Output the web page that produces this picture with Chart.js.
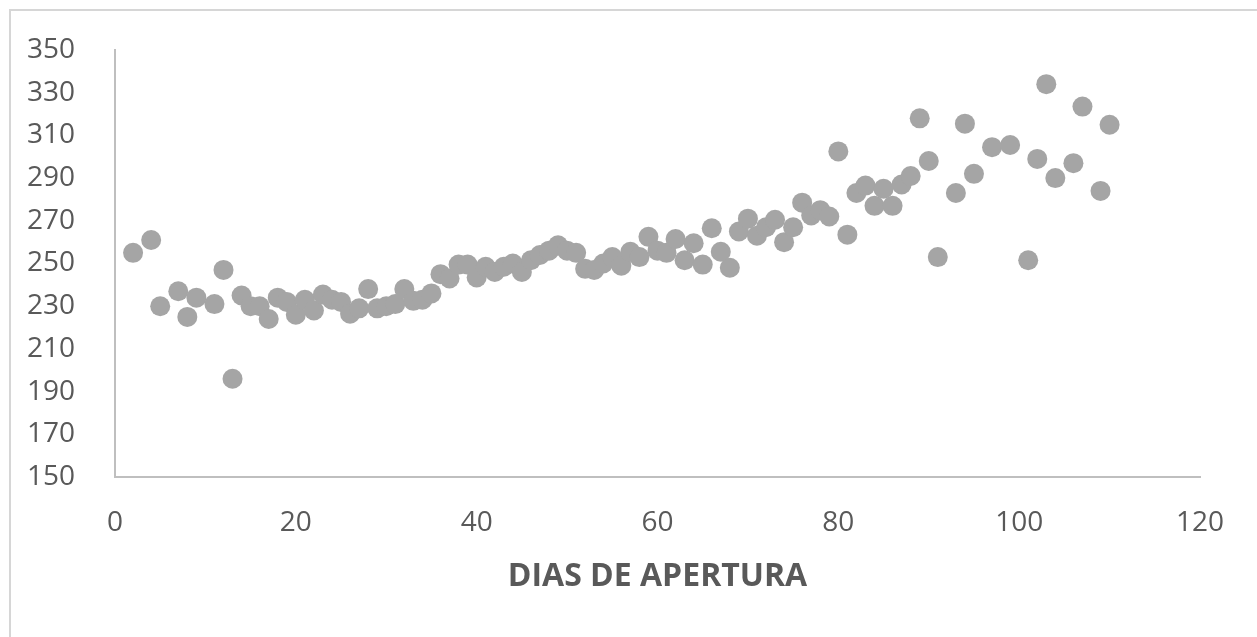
<!DOCTYPE html>
<html lang="es">
<head>
<meta charset="UTF-8">
<title>Dias de apertura</title>
<script src="https://cdn.jsdelivr.net/npm/chart.js"></script>
<style>
 html, body { margin: 0; padding: 0; background: #fff; overflow: hidden; }
 .frame {
   position: absolute; left: 9px; top: 9px; width: 1400px; height: 800px;
   border-left: 2px solid #d6d6d6; border-top: 2px solid #d6d6d6;
 }
 #chart { position: absolute; left: 0; top: 0; }
</style>
</head>
<body>
<div class="frame"></div>
<canvas id="chart" width="1257" height="637"></canvas>
<script>
// x: dias de apertura, y: valor
const dias = [2, 4, 5, 7, 8, 9, 11, 12, 13, 14, 15, 16, 17, 18, 19, 20, 21, 22, 23, 24,
  25, 26, 27, 28, 29, 30, 31, 32, 33, 34, 35, 36, 37, 38, 39, 40, 41, 42, 43, 44,
  45, 46, 47, 48, 49, 50, 51, 52, 53, 54, 55, 56, 57, 58, 59, 60, 61, 62, 63, 64,
  65, 66, 67, 68, 69, 70, 71, 72, 73, 74, 75, 76, 77, 78, 79, 80, 81, 82, 83, 84,
  85, 86, 87, 88, 89, 90, 91, 93, 94, 95, 97, 99, 101, 102, 103, 104, 106, 107, 109, 110];
const valores = [255, 261, 230, 237, 225, 234, 231, 247, 196, 235, 230, 230, 224, 234, 232, 226, 233, 228, 235.5, 233,
  232, 226.5, 229, 238, 229, 230, 231, 238, 232.5, 233, 236, 245, 243, 249.5, 249.5, 243.5, 248.5, 246, 248.5, 250,
  246, 251.5, 254, 256, 258.5, 256, 255, 247.5, 247, 250, 253, 249, 255.5, 253, 262.5, 256, 255, 261.5, 251.5, 259.5,
  249.5, 266.5, 255.5, 248, 265, 271, 263, 267, 270.5, 260, 267, 278.5, 272.5, 275, 272, 302.5, 263.5, 283, 286.5, 277,
  285, 277, 287, 291, 318, 298, 253, 283, 315.5, 292, 304.5, 305.5, 251.5, 299, 334, 290, 297, 323.5, 284, 315];

const xTicks = [0, 20, 40, 60, 80, 100, 120];
const yTicks = [150, 170, 190, 210, 230, 250, 270, 290, 310, 330, 350];
const xTitle = 'DIAS DE APERTURA';

const puntos = dias.map((d, i) => ({ x: d, y: valores[i] }));

new Chart(document.getElementById('chart'), {
  type: 'scatter',
  data: {
    datasets: [{
      data: puntos,
      backgroundColor: '#a5a5a5',
      borderColor: '#a5a5a5',
      pointRadius: 10,
      pointBorderWidth: 0,
      pointHoverRadius: 10
    }]
  },
  options: {
    responsive: false,
    animation: false,
    devicePixelRatio: 1,
    layout: { padding: { top: 50, right: 57, left: 0, bottom: 0 } },
    plugins: { legend: { display: false }, tooltip: { enabled: false } },
    scales: {
      x: {
        type: 'linear',
        min: xTicks[0],
        max: xTicks[xTicks.length - 1],
        afterBuildTicks: s => { s.ticks = xTicks.map(v => ({ value: v })); },
        afterFit: s => { s.height = 160; },
        grid: { display: false },
        border: { display: true, color: '#bfbfbf', width: 2 },
        ticks: { color: '#595959', padding: 21, font: { family: 'Open Sans', size: 28 } },
        title: {
          display: true,
          text: xTitle,
          color: '#595959',
          padding: { bottom: 41 },
          font: { family: 'Open Sans', size: 32, weight: 'bold' }
        }
      },
      y: {
        type: 'linear',
        min: yTicks[0],
        max: yTicks[yTicks.length - 1],
        afterBuildTicks: s => { s.ticks = yTicks.map(v => ({ value: v })); },
        afterFit: s => { s.width = 115; },
        grid: { display: false },
        border: { display: true, color: '#bfbfbf', width: 2 },
        ticks: { color: '#595959', padding: 32, font: { family: 'Open Sans', size: 28 } }
      }
    }
  }
});
</script>
</body>
</html>
